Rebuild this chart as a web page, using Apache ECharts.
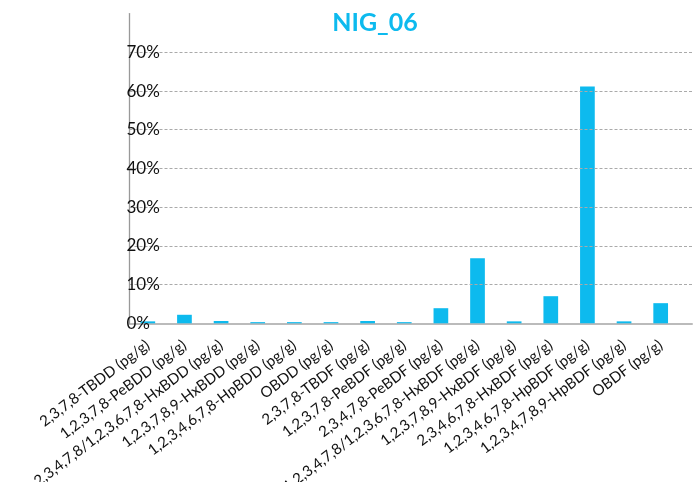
<!DOCTYPE html>
<html>
<head>
<meta charset="utf-8">
<script src="https://cdn.jsdelivr.net/npm/echarts@6/dist/echarts.min.js"></script>
<style>html,body{margin:0;padding:0;background:#fff;}#c{width:699px;height:482px;}</style>
</head>
<body>
<div id="c"></div>
<script>
const title = 'NIG_06';
const categories = [
  '2,3,7,8-TBDD (pg/g)',
  '1,2,3,7,8-PeBDD (pg/g)',
  '1,2,3,4,7,8/1,2,3,6,7,8-HxBDD (pg/g)',
  '1,2,3,7,8,9-HxBDD (pg/g)',
  '1,2,3,4,6,7,8-HpBDD (pg/g)',
  'OBDD (pg/g)',
  '2,3,7,8-TBDF (pg/g)',
  '1,2,3,7,8-PeBDF (pg/g)',
  '2,3,4,7,8-PeBDF (pg/g)',
  '1,2,3,4,7,8/1,2,3,6,7,8-HxBDF (pg/g)',
  '1,2,3,7,8,9-HxBDF (pg/g)',
  '2,3,4,6,7,8-HxBDF (pg/g)',
  '1,2,3,4,6,7,8-HpBDF (pg/g)',
  '1,2,3,4,7,8,9-HpBDF (pg/g)',
  'OBDF (pg/g)'
];
const values = [0.5, 2.2, 0.6, 0.3, 0.3, 0.3, 0.6, 0.3, 3.9, 16.8, 0.5, 7.0, 61.2, 0.5, 5.2];
const yMin = 0, yMax = 80, yInterval = 10;

const gridTop = 13.6, gridBottom = 158.7;
const splitStyle = {color: '#aaaaaa', type: [3, 2], width: 1};
const xLineStyle = {color: '#bbbbbb', width: 2};

const chart = echarts.init(document.getElementById('c'));
chart.setOption({
  animation: false,
  title: {
    text: title,
    left: 375,
    textAlign: 'center',
    top: 10,
    padding: 0,
    textStyle: {color: '#0DBAEE', fontFamily: 'Lato', fontWeight: 'bold', fontSize: 25}
  },
  grid: [
    {left: 129.5, right: 20, top: gridTop, bottom: gridBottom, containLabel: false, outerBoundsMode: 'none'},
    {left: 679, right: 7, top: gridTop, bottom: gridBottom, containLabel: false, outerBoundsMode: 'none'}
  ],
  xAxis: [{
    type: 'category',
    gridIndex: 0,
    data: categories,
    axisLine: {lineStyle: xLineStyle},
    axisTick: {show: false},
    axisLabel: {
      interval: 0,
      rotate: 37,
      margin: 20,
      color: '#111',
      fontFamily: 'Lato',
      fontSize: 15
    }
  }, {
    type: 'category',
    gridIndex: 1,
    data: [''],
    axisLine: {lineStyle: xLineStyle},
    axisTick: {show: false},
    axisLabel: {show: false}
  }],
  yAxis: [{
    type: 'value',
    gridIndex: 0,
    min: yMin, max: yMax, interval: yInterval,
    z: 5,
    axisLine: {show: true, lineStyle: {color: '#999999', width: 1.3}},
    axisTick: {show: false},
    axisLabel: {
      inside: true,
      margin: -3,
      showMaxLabel: false,
      formatter: v => v + '%',
      color: '#111',
      fontFamily: 'Lato',
      fontSize: 17,
      padding: [5, 0, 0, 0]
    },
    splitLine: {show: true, showMaxLine: false, showMinLine: false, lineStyle: splitStyle}
  }, {
    type: 'value',
    gridIndex: 1,
    min: yMin, max: yMax, interval: yInterval,
    axisLine: {show: false},
    axisTick: {show: false},
    axisLabel: {show: false},
    splitLine: {show: true, showMaxLine: false, showMinLine: false, lineStyle: splitStyle}
  }],
  series: [{
    type: 'bar',
    xAxisIndex: 0,
    yAxisIndex: 0,
    data: values,
    barWidth: 14.7,
    itemStyle: {color: '#0DBAEE'}
  }]
});
</script>
</body>
</html>
